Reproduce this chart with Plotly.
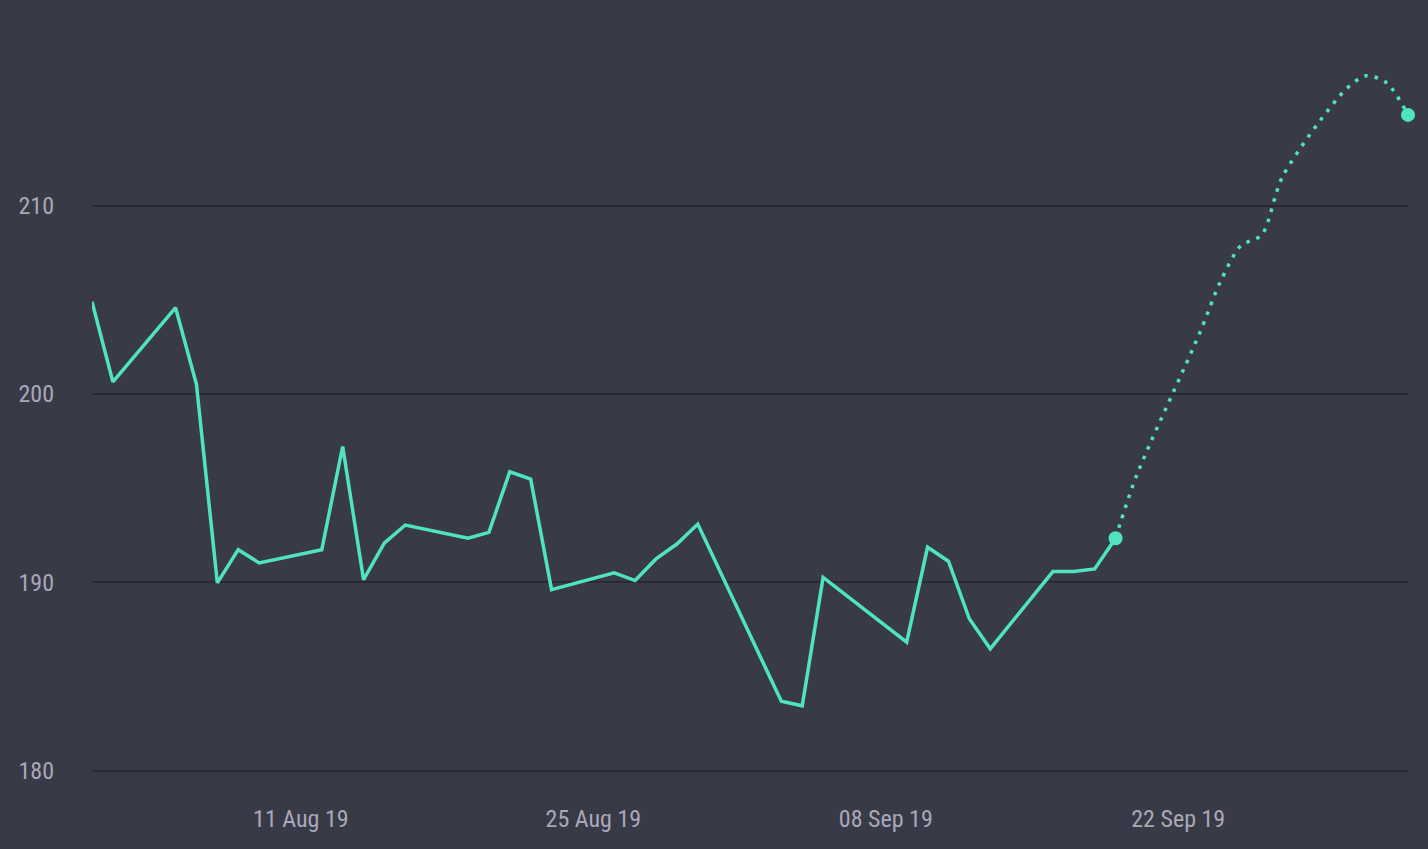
import plotly.graph_objects as go

# Historical series (trading days)
hist_dates = [
    "2019-08-01", "2019-08-02", "2019-08-05", "2019-08-06", "2019-08-07",
    "2019-08-08", "2019-08-09", "2019-08-12", "2019-08-13", "2019-08-14",
    "2019-08-15", "2019-08-16", "2019-08-19", "2019-08-20", "2019-08-21",
    "2019-08-22", "2019-08-23", "2019-08-26", "2019-08-27", "2019-08-28",
    "2019-08-29", "2019-08-30", "2019-09-03", "2019-09-04", "2019-09-05",
    "2019-09-09", "2019-09-10", "2019-09-11", "2019-09-12", "2019-09-13",
    "2019-09-16", "2019-09-17", "2019-09-18", "2019-09-19",
]
hist_values = [
    204.9, 200.64, 204.58, 200.51, 189.97,
    191.73, 191.03, 191.73, 197.21, 190.14,
    192.09, 193.04, 192.34, 192.65, 195.87,
    195.48, 189.61, 190.50, 190.09, 191.24,
    192.03, 193.09, 183.68, 183.44, 190.26,
    186.82, 191.86, 191.12, 188.06, 186.47,
    190.57, 190.57, 190.71, 192.34,
]

# Forecast series (dotted)
forecast_dates = [
    "2019-09-19", "2019-09-20", "2019-09-23", "2019-09-24", "2019-09-25",
    "2019-09-26", "2019-09-27", "2019-09-30", "2019-10-01", "2019-10-02",
    "2019-10-03",
]
forecast_values = [
    192.34, 195.65, 203.16, 205.92, 207.88,
    208.45, 211.55, 216.15, 216.9, 216.5,
    214.82,
]

# Highlighted endpoints
marker_dates = [hist_dates[-1], forecast_dates[-1]]
marker_values = [hist_values[-1], forecast_values[-1]]

y_ticks = [180, 190, 200, 210]
x_ticks = ["2019-08-11", "2019-08-25", "2019-09-08", "2019-09-22"]
x_tick_labels = ["11 Aug 19", "25 Aug 19", "08 Sep 19", "22 Sep 19"]

LINE = "#50e3c2"
BG = "#393a47"
GRID = "#2a2a34"
TEXT = "#a9a8b9"
FONT = "Liberation Sans Narrow, Roboto Condensed, DejaVu Sans Condensed, sans-serif"

fig = go.Figure()
fig.add_trace(go.Scatter(
    x=hist_dates, y=hist_values, mode="lines",
    line=dict(color=LINE, width=3.5), hoverinfo="skip",
))
fig.add_trace(go.Scatter(
    x=forecast_dates, y=forecast_values, mode="lines",
    line=dict(color=LINE, width=3.5, dash="3.5px,7px", shape="spline", smoothing=0.8),
    hoverinfo="skip",
))
fig.add_trace(go.Scatter(
    x=marker_dates, y=marker_values, mode="markers",
    marker=dict(color=LINE, size=14), cliponaxis=False, hoverinfo="skip",
))

fig.update_layout(
    width=1428, height=849,
    paper_bgcolor=BG, plot_bgcolor=BG,
    margin=dict(l=92, r=20, t=55, b=69),
    showlegend=False,
    hovermode=False,
    font=dict(family=FONT, size=24, color=TEXT),
)
fig.update_xaxes(
    type="date",
    range=["2019-08-01", "2019-10-03"],
    tickvals=x_ticks, ticktext=x_tick_labels,
    showgrid=False, zeroline=False, showline=False, ticks="",
    ticklabelstandoff=22,
    tickfont=dict(family=FONT, size=24, color=TEXT),
)
fig.update_yaxes(
    range=[179.5, 218],
    tickvals=y_ticks,
    showgrid=True, gridcolor=GRID, gridwidth=2,
    zeroline=False, showline=False, ticks="",
    ticklabelstandoff=37,
    tickfont=dict(family=FONT, size=24, color=TEXT),
)

fig.write_html(
    "out.html",
    config={"displayModeBar": False},
    post_script="document.body.style.margin='0';document.body.style.background='%s';" % BG,
)
